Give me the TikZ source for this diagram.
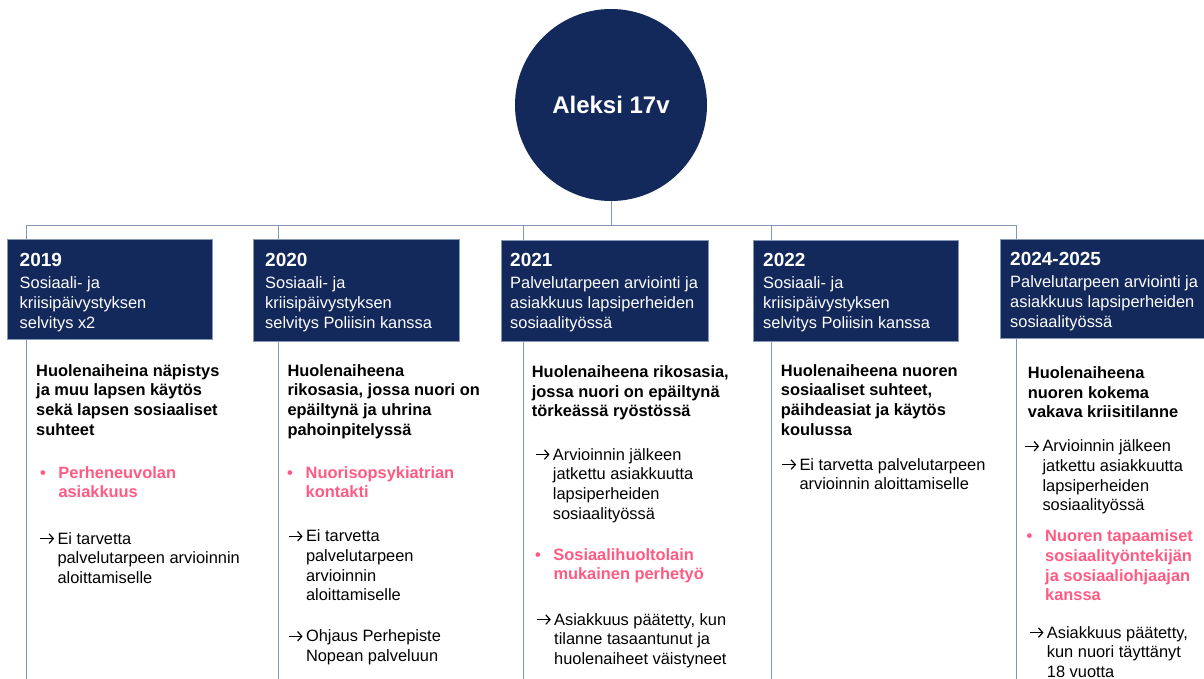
\documentclass[tikz,border=0pt]{standalone}
\usepackage{fontspec}
\setmainfont{Liberation Sans}
\usetikzlibrary{positioning,arrows.meta}

\definecolor{navy}{RGB}{19,41,91}
\definecolor{linkgray}{RGB}{132,151,180}
\definecolor{rosepink}{RGB}{255,90,130}

\newcommand{\txtrows}[1]{\begin{tabular}[t]{@{}l@{}}#1\end{tabular}}
\newcommand{\arrowmark}{\tikz[baseline=-0.65ex]\draw[line width=1.2pt,
  -{Straight Barb[length=4.2pt,width=9.5pt]}] (0pt,0pt) -- (14pt,0pt);}
\newcommand{\arrowed}[1]{\makebox[18pt][l]{\arrowmark}\txtrows{#1}}
\newcommand{\bulleted}[1]{\makebox[19pt][l]{\hspace{0.5pt}•}\txtrows{#1}}
\newcommand{\yr}[1]{{\fontsize{19}{20}\selectfont\bfseries #1}\\[1.5pt]}

\tikzset{
  person/.style={circle, fill=navy, minimum size=192pt, inner sep=0pt,
    text=white, font=\fontsize{24}{28}\selectfont\bfseries},
  yearbox/.style={rectangle, fill=navy, draw=linkgray, line width=0.6pt,
    anchor=north west, inner sep=0pt},
  yeartext/.style={anchor=north west, inner sep=0pt, text=white,
    font=\fontsize{16.4}{20}\selectfont},
  body/.style={anchor=north west, inner sep=0pt,
    font=\fontsize{16.4}{19.6}\selectfont},
  concern/.style={body, font=\fontsize{16.4}{19.6}\selectfont\bfseries},
  support/.style={concern, text=rosepink},
  link/.style={draw=linkgray, line width=1pt}
}

\begin{document}
\begin{tikzpicture}[x=1pt, y=-1pt]
  \useasboundingbox (0,0) rectangle (1204,679);

  % Person at the top
  \node[person] (alek) at (611,105) {Aleksi 17v};

  % Hub line and column coordinates
  \coordinate (hub) at (611,225);
  \foreach \c/\x in {19/26, 20/278, 21/523, 22/771, 25/1016} {
    \coordinate (c\c) at (\x,225);
    \coordinate (e\c) at (\x,679);
  }

  % Year boxes
  \node[yearbox, minimum width=205pt, minimum height=100pt] (b19) at (7,239) {};
  \node[yearbox, minimum width=206pt, minimum height=102pt] (b20) at (253,239) {};
  \node[yearbox, minimum width=207pt, minimum height=101pt] (b21) at (501,240) {};
  \node[yearbox, minimum width=205pt, minimum height=101pt] (b22) at (753,240) {};
  \node[yearbox, minimum width=206pt, minimum height=99pt] (b25) at (1000,239) {};

  \node[yeartext, below right=13.7pt and 12.5pt of b19.north west] (t19)
    {\txtrows{\yr{2019}Sosiaali- ja\\kriisipäivystyksen\\selvitys x2}};
  \node[yeartext, below right=13.7pt and 12pt of b20.north west] (t20)
    {\txtrows{\yr{2020}Sosiaali- ja\\kriisipäivystyksen\\selvitys Poliisin kanssa}};
  \node[yeartext, below right=12.7pt and 9pt of b21.north west] (t21)
    {\txtrows{\yr{2021}Palvelutarpeen arviointi ja\\asiakkuus lapsiperheiden\\sosiaalityössä}};
  \node[yeartext, below right=12.7pt and 10pt of b22.north west] (t22)
    {\txtrows{\yr{2022}Sosiaali- ja\\kriisipäivystyksen\\selvitys Poliisin kanssa}};
  \node[yeartext, below right=12.5pt and 10pt of b25.north west] (t25)
    {\txtrows{\yr{2024-2025}Palvelutarpeen arviointi ja\\asiakkuus lapsiperheiden\\sosiaalityössä}};

  % Connectors
  \draw[link] (alek) -- (hub);
  \draw[link] (c19) -- (c25);
  \foreach \c in {19,20,21,22,25} {
    \draw[link] (c\c) -- (c\c |- b\c.north);
    \draw[link] (c\c |- b\c.south) -- (e\c);
  }

  % 2019
  \node[concern] (h19) at (36,362.3)
    {\txtrows{Huolenaiheina näpistys\\ja muu lapsen käytös\\sekä lapsen sosiaaliset\\suhteet}};
  \node[support] (p19) at (39.3,464.3) {\bulleted{Perheneuvolan\\asiakkuus}};
  \node[body] (a19) at (39.3,530.3)
    {\arrowed{Ei tarvetta\\palvelutarpeen arvioinnin\\aloittamiselle}};

  % 2020
  \node[concern] (h20) at (287.3,362.3)
    {\txtrows{Huolenaiheena\\rikosasia, jossa nuori on\\epäiltynä ja uhrina\\pahoinpitelyssä}};
  \node[support] (p20) at (286.5,464.3) {\bulleted{Nuorisopsykiatrian\\kontakti}};
  \node[body] (a20) at (287.8,528)
    {\arrowed{Ei tarvetta\\palvelutarpeen\\arvioinnin\\aloittamiselle}};
  \node[body] (o20) at (287.8,628)
    {\arrowed{Ohjaus Perhepiste\\Nopean palveluun}};

  % 2021
  \node[concern] (h21) at (531.7,363.6)
    {\txtrows{Huolenaiheena rikosasia,\\jossa nuori on epäiltynä\\törkeässä ryöstössä}};
  \node[body] (a21) at (534.7,446.3)
    {\arrowed{Arvioinnin jälkeen\\jatkettu asiakkuutta\\lapsiperheiden\\sosiaalityössä}};
  \node[support] (p21) at (534.3,546.3) {\bulleted{Sosiaalihuoltolain\\mukainen perhetyö}};
  \node[body] (f21) at (536,611.3)
    {\arrowed{Asiakkuus päätetty, kun\\tilanne tasaantunut ja\\huolenaiheet väistyneet}};

  % 2022
  \node[concern] (h22) at (780.7,362.3)
    {\txtrows{Huolenaiheena nuoren\\sosiaaliset suhteet,\\päihdeasiat ja käytös\\koulussa}};
  \node[body] (a22) at (781.3,456.3)
    {\arrowed{Ei tarvetta palvelutarpeen\\arvioinnin aloittamiselle}};

  % 2024-2025
  \node[concern] (h25) at (1027.7,364.6)
    {\txtrows{Huolenaiheena\\nuoren kokema\\vakava kriisitilanne}};
  \node[body] (a25) at (1024.3,438)
    {\arrowed{Arvioinnin jälkeen\\jatkettu asiakkuutta\\lapsiperheiden\\sosiaalityössä}};
  \node[support] (p25) at (1026,528)
    {\bulleted{Nuoren tapaamiset\\sosiaalityöntekijän\\ja sosiaaliohjaajan\\kanssa}};
  \node[body] (f25) at (1028.7,624.3)
    {\arrowed{Asiakkuus päätetty,\\kun nuori täyttänyt\\18 vuotta}};
\end{tikzpicture}
\end{document}
